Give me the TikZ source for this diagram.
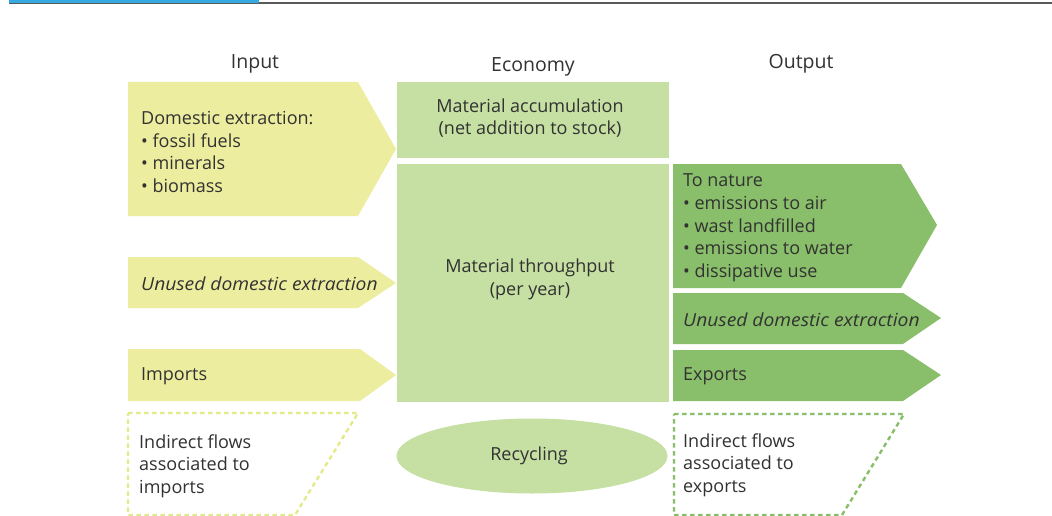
\documentclass[tikz,border=0pt]{standalone}
\usepackage{fontspec}
\setmainfont{Open Sans}
\newfontfamily\itfont{Open Sans}[FakeStretch=1.07]
\usepackage{xcolor}
\definecolor{inyellow}{RGB}{237,237,160}
\definecolor{dashyellow}{RGB}{228,234,140}
\definecolor{ecogreen}{RGB}{197,224,162}
\definecolor{outgreen}{RGB}{137,191,106}
\definecolor{txtgray}{RGB}{50,50,50}
\definecolor{barblue}{RGB}{52,170,224}

\begin{document}
\begin{tikzpicture}[x=1pt,y=-1pt,
  every node/.style={text=txtgray,font=\fontsize{18}{22.7}\selectfont,inner sep=0pt},
  head/.style={font=\fontsize{19.5}{23}\selectfont},
  lbl/.style={anchor=west,align=left},
  dashbox/.style={dash pattern=on 4.5pt off 3.5pt,line width=2.4pt}]
\useasboundingbox (0,0) rectangle (1052,516);
\fill[white] (0,0) rectangle (1052,516);
% header bar
\fill[gray!70!black] (9,2.5) rectangle (1052,3.8);
\fill[barblue] (9,0) rectangle (259,2.6);

% headings
\node[head] at (255,64) (hin) {Input};
\node[head] at (533,67) (heco) {Economy};
\node[head] at (801,64) (hout) {Output};

% input side
\fill[inyellow] (128,82) -- (358,82) -- (396,149) -- (358,216) -- (128,216) -- cycle;
\fill[inyellow] (128,257) -- (358,257) -- (396,283) -- (358,308) -- (128,308) -- cycle;
\fill[inyellow] (128,349) -- (360,349) -- (396,375) -- (360,401) -- (128,401) -- cycle;
\draw[dashyellow,dashbox] (128,413) -- (358,413) -- (295,515) -- (128,515) -- cycle;
\node[lbl] at (141,152) (dom) {Domestic extraction:\\ \textbullet\ fossil fuels\\ \textbullet\ minerals\\ \textbullet\ biomass};
\node[lbl] at (141,284) (uin) {\itfont\itshape Unused domestic extraction};
\node[lbl] at (141,376) (imp) {Imports};
\node[lbl] at (139,466) (indin) {Indirect flows\\ associated to\\ imports};

% economy
\fill[ecogreen] (397,82) rectangle (669,158);
\fill[ecogreen] (397,164) rectangle (669,402);
\fill[ecogreen] (532,456) ellipse [x radius=135.5,y radius=37.5];
\node[align=center] at (530,118) (acc) {Material accumulation\\ (net addition to stock)};
\node[align=center] at (530,279) (thr) {Material throughput\\ (per year)};
\node at (529,456) (rec) {Recycling};

% output side
\fill[outgreen] (673,164) -- (901,164) -- (937,225) -- (901,288) -- (673,288) -- cycle;
\fill[outgreen] (673,293) -- (903,293) -- (941,318) -- (903,344) -- (673,344) -- cycle;
\fill[outgreen] (673,350) -- (903,350) -- (941,375) -- (903,401) -- (673,401) -- cycle;
\draw[outgreen,dashbox] (674,414) -- (904,414) -- (842,515) -- (674,515) -- cycle;
\node[lbl] at (683,228) (nat) {To nature\\ \textbullet\ emissions to air\\ \textbullet\ wast landfilled\\ \textbullet\ emissions to water\\ \textbullet\ dissipative use};
\node[lbl] at (683,320) (uout) {\itfont\itshape Unused domestic extraction};
\node[lbl] at (683,376) (exp) {Exports};
\node[lbl] at (683,465) (indout) {Indirect flows\\ associated to\\ exports};
\end{tikzpicture}
\end{document}
